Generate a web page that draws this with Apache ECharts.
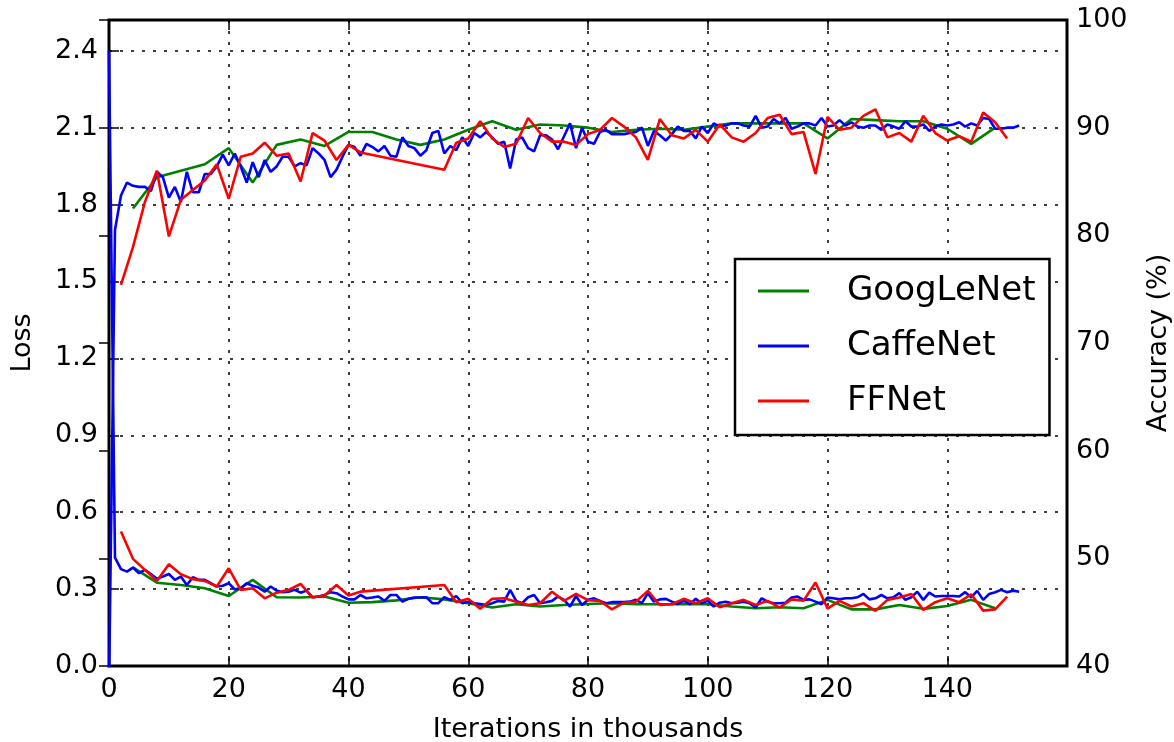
<!DOCTYPE html>
<html><head><meta charset="utf-8">
<script src="https://cdn.jsdelivr.net/npm/echarts@6/dist/echarts.min.js"></script>
<style>html,body{margin:0;padding:0;background:#fff}#c{width:1174px;height:742px}</style>
</head><body><div id="c"></div>
<script>
const seriesNames = ['GoogLeNet', 'CaffeNet', 'FFNet'];
const seriesColors = ['#008000', '#0000ff', '#ff0000'];

const googIter = [4,8,12,16,20,24,28,32,36,40,44,48,52,56,60,64,68,72,76,80,84,88,92,96,100,104,108,112,116,120,124,128,132,136,140,144,148];
const googAcc = [82.5,85.4,86.0,86.6,88.1,84.9,88.4,88.9,88.3,89.6,89.6,88.9,88.4,88.9,89.8,90.6,89.8,90.3,90.2,90.0,89.6,89.8,89.9,89.8,90.1,90.4,90.4,90.4,90.4,89.0,90.8,90.7,90.6,90.6,89.9,88.5,90.0];
const googLoss = [0.385,0.325,0.316,0.303,0.273,0.336,0.268,0.267,0.271,0.247,0.249,0.256,0.268,0.260,0.245,0.228,0.241,0.232,0.238,0.242,0.245,0.241,0.241,0.241,0.241,0.232,0.225,0.229,0.225,0.258,0.221,0.221,0.238,0.223,0.234,0.258,0.225];

const caffeIter = [0,1,2,3,4,5,6,7,8,9,10,11,12,13,14,15,16,17,18,19,20,21,22,23,24,25,26,27,28,29,30,31,32,33,34,35,36,37,38,39,40,41,42,43,44,45,46,47,48,49,50,51,52,53,54,55,56,57,58,59,60,61,62,63,64,65,66,67,68,69,70,71,72,73,74,75,76,77,78,79,80,81,82,83,84,85,86,87,88,89,90,91,92,93,94,95,96,97,98,99,100,101,102,103,104,105,106,107,108,109,110,111,112,113,114,115,116,117,118,119,120,121,122,123,124,125,126,127,128,129,130,131,132,133,134,135,136,137,138,139,140,141,142,143,144,145,146,147,148,149,150,151,152];
const caffeAcc = [38,80.5,83.7,84.9,84.6,84.5,84.5,84.1,85.9,85.4,83.5,84.5,83.1,85.9,84.0,84.0,85.7,85.7,86.4,87.5,86.5,87.6,86.4,84.9,86.8,85.4,87.0,85.9,86.4,87.3,87.3,86.4,86.7,86.5,88.1,87.6,87.0,85.4,86.1,87.3,88.4,
88.2,87.4,88.5,88.2,87.8,88.3,87.4,87.3,89.1,88.3,88.1,87.4,87.9,89.5,89.7,87.6,88.3,87.9,89.1,88.3,89.5,89.1,89.6,89.1,88.5,88.7,86.2,88.9,89.1,88.1,87.8,89.3,89.3,88.9,88.0,89.2,90.4,88.1,90.0,88.7,
88.5,89.6,89.8,89.4,89.4,89.4,89.5,89.6,90.0,88.3,89.7,89.3,88.8,89.4,90.1,89.7,89.7,89.0,90.1,89.5,90.4,90.1,90.2,90.4,90.4,90.2,90.1,91.1,90.0,90.1,90.8,90.4,90.9,89.9,90.1,90.4,90.4,90.2,90.9,90.1,
90.2,90.7,90.2,90.5,90.1,90.0,90.2,90.2,89.8,90.3,90.1,89.9,90.6,90.1,90.1,90.3,89.7,90.1,90.3,90.2,90.3,90.5,90.1,90.4,90.2,90.9,90.8,89.9,89.9,90.0,90.0,90.2];
const caffeLoss = [2.40,0.423,0.378,0.368,0.384,0.362,0.375,0.359,0.340,0.349,0.359,0.336,0.349,0.316,0.346,0.336,0.336,0.323,0.310,0.313,0.323,0.299,0.303,0.323,0.313,0.306,0.290,0.310,0.294,0.288,0.290,0.297,0.286,0.294,0.268,0.271,0.277,0.288,0.284,0.271,0.260,
0.260,0.277,0.264,0.267,0.271,0.254,0.277,0.277,0.251,0.262,0.267,0.267,0.268,0.245,0.245,0.268,0.258,0.273,0.245,0.251,0.245,0.242,0.238,0.245,0.254,0.251,0.297,0.254,0.245,0.268,0.277,0.245,0.249,0.254,0.271,0.258,0.232,0.273,0.238,0.258,
0.264,0.254,0.245,0.249,0.249,0.249,0.251,0.258,0.245,0.284,0.251,0.260,0.262,0.251,0.242,0.254,0.241,0.262,0.245,0.254,0.232,0.247,0.251,0.245,0.247,0.251,0.245,0.228,0.264,0.251,0.245,0.245,0.247,0.267,0.271,0.258,0.260,0.251,0.241,0.267,
0.264,0.260,0.264,0.264,0.268,0.281,0.260,0.264,0.277,0.264,0.268,0.284,0.258,0.268,0.290,0.258,0.286,0.271,0.273,0.273,0.273,0.271,0.288,0.268,0.293,0.258,0.281,0.288,0.297,0.288,0.294,0.290];

const ffIter = [2,4,6,8,10,12,14,16,18,20,22,24,26,28,30,32,34,36,38,40,42,56,58,60,62,64,66,68,70,72,74,76,78,80,82,84,86,88,90,92,94,96,98,100,102,104,106,108,110,112,114,116,118,120,122,124,126,128,130,132,134,136,138,140,142,144,146,148,150];
const ffAcc = [75.4,78.9,83.1,86.0,79.9,83.3,84.2,85.1,86.6,83.4,87.3,87.6,88.6,87.4,87.6,85.0,89.5,88.8,87.0,88.4,87.7,86.1,88.6,89.0,90.6,89.0,88.2,88.5,90.9,89.5,88.7,88.7,88.4,89.4,89.8,90.9,90.1,89.1,87.0,90.8,89.3,89.0,89.8,88.7,90.3,89.1,88.7,89.5,90.9,91.2,89.4,89.6,85.7,91.0,89.8,90.0,91.1,91.7,89.1,89.5,88.7,91.1,89.5,88.8,89.2,88.7,91.4,90.5,89.0];
const ffLoss = [0.525,0.418,0.375,0.332,0.397,0.358,0.339,0.332,0.310,0.381,0.297,0.303,0.264,0.286,0.297,0.320,0.267,0.275,0.316,0.275,0.290,0.316,0.249,0.262,0.223,0.262,0.264,0.251,0.238,0.245,0.290,0.254,0.281,0.257,0.254,0.221,0.247,0.251,0.293,0.238,0.241,0.262,0.245,0.264,0.229,0.245,0.258,0.238,0.254,0.228,0.260,0.255,0.326,0.224,0.254,0.232,0.245,0.215,0.258,0.267,0.281,0.219,0.249,0.264,0.249,0.280,0.216,0.221,0.271];

const xTickLabels = ['0','20','40','60','80','100','120','140'];
const lossTickLabels = ['0.0','0.3','0.6','0.9','1.2','1.5','1.8','2.1','2.4'];
const accTickLabels = ['40','50','60','70','80','90','100'];

const FONT = 'DejaVu Sans';
const pairs = (xs, ys) => xs.map((x, i) => [x, ys[i]]);

const chart = echarts.init(document.getElementById('c'), null, {renderer: 'canvas'});

const tickStyle = {show: true, inside: true, length: 10, lineStyle: {color: '#000', width: 1.5}};
const gridLine = {show: true, lineStyle: {color: '#000', width: 1.5, type: [3, 8]}};
const labelStyle = {color: '#000', fontSize: 27, fontFamily: FONT};

function mkLine(name, color, xs, ys, yIdx) {
  return {
    name: name, type: 'line', xAxisIndex: 0, yAxisIndex: yIdx,
    data: pairs(xs, ys), showSymbol: false, symbol: 'none',
    lineStyle: {color: color, width: 2.6}, itemStyle: {color: color},
    clip: true, animation: false, z: 3
  };
}

chart.setOption({
  animation: false,
  backgroundColor: '#fff',
  textStyle: {fontFamily: FONT},
  grid: {left: 109, right: 107, top: 20, bottom: 76, show: true, borderColor: '#000', borderWidth: 3,
         backgroundColor: '#fff', containLabel: false, outerBoundsMode: 'none'},
  legend: {
    data: seriesNames, orient: 'vertical', left: 735, top: 259,
    backgroundColor: '#fff', borderColor: '#000', borderWidth: 2.5, borderRadius: 0,
    padding: [15, 14, 17, 23], itemWidth: 51, itemHeight: 3, itemGap: 21, icon: 'rect',
    textStyle: {color: '#000', fontSize: 34, fontFamily: FONT, padding: [0, 0, 0, 33]},
    selectedMode: false, z: 10
  },
  xAxis: [
    {type: 'value', position: 'bottom', min: 0, max: 160, interval: 20,
     axisLine: {show: false}, axisTick: tickStyle, splitLine: gridLine,
     axisLabel: Object.assign({margin: 10, showMaxLabel: false,
       formatter: v => xTickLabels[Math.round(v / 20)] || ''}, labelStyle),
     name: 'Iterations in thousands', nameLocation: 'middle', nameGap: 50,
     nameTextStyle: labelStyle},
    {type: 'value', position: 'top', min: 0, max: 160, interval: 20,
     axisLine: {show: false}, axisTick: tickStyle, splitLine: {show: false},
     axisLabel: {show: false}}
  ],
  yAxis: [
    {type: 'value', position: 'left', min: 0, max: 2.52, interval: 0.3,
     axisLine: {show: false}, axisTick: tickStyle, splitLine: gridLine,
     axisLabel: Object.assign({margin: 11, showMaxLabel: false,
       formatter: v => lossTickLabels[Math.round(v / 0.3)] || ''}, labelStyle),
     name: 'Loss', nameLocation: 'middle', nameGap: 73, nameRotate: 90,
     nameTextStyle: labelStyle},
    {type: 'value', position: 'right', min: 40, max: 100, interval: 10,
     axisLine: {show: false}, axisTick: tickStyle, splitLine: {show: false},
     axisLabel: Object.assign({margin: 9,
       formatter: v => accTickLabels[Math.round((v - 40) / 10)] || ''}, labelStyle),
     name: 'Accuracy (%)', nameLocation: 'middle', nameGap: 78, nameRotate: 90,
     nameTextStyle: labelStyle}
  ],
  series: [
    mkLine(seriesNames[0], seriesColors[0], googIter, googAcc, 1),
    mkLine(seriesNames[1], seriesColors[1], caffeIter, caffeAcc, 1),
    mkLine(seriesNames[2], seriesColors[2], ffIter, ffAcc, 1),
    mkLine(seriesNames[0], seriesColors[0], googIter, googLoss, 0),
    mkLine(seriesNames[1], seriesColors[1], caffeIter, caffeLoss, 0),
    mkLine(seriesNames[2], seriesColors[2], ffIter, ffLoss, 0)
  ]
});
</script></body></html>
